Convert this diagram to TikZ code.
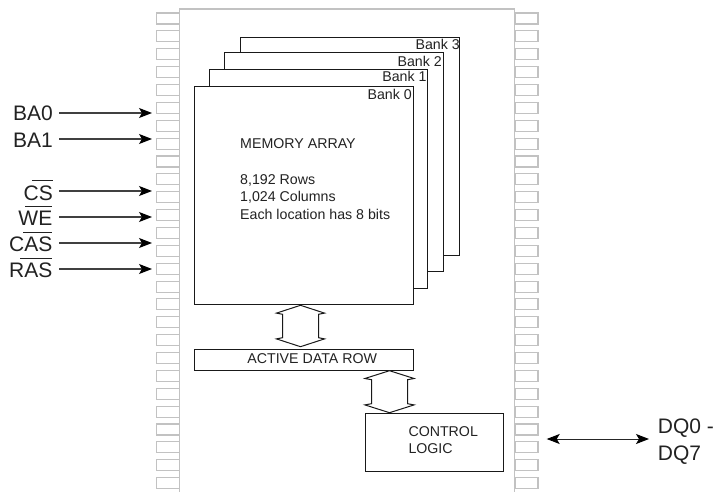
\documentclass[tikz,border=0pt]{standalone}
\usepackage{fontspec}
\setmainfont{Liberation Sans}
\usetikzlibrary{arrows.meta}
\definecolor{pingray}{HTML}{C2C2C2}
\definecolor{ink}{HTML}{222222}
\newcommand{\ovlbar}[2]{\llap{\rule[18.8pt]{#1}{1pt}}\llap{#2}}
\newcommand{\hollowarrow}[5]{% cx, half-wing, half-shaft, top, bottom
  \draw[hollow] (#1,#4) -- (#1-#2,#4+7.8) -- (#1-#3,#4+9) -- (#1-#3,#5-9) -- (#1-#2,#5-7.8)
    -- (#1,#5) -- (#1+#2,#5-7.8) -- (#1+#3,#5-9) -- (#1+#3,#4+9) -- (#1+#2,#4+7.8) -- cycle;}
\tikzset{
  x=1pt,y=-1pt,
  pinbox/.style={draw=pingray,line width=1.1pt,fill=white,rectangle,inner sep=0pt,minimum width=23pt,minimum height=11pt},
  block/.style={draw=black!90,line width=1pt,fill=white,rectangle,inner sep=0pt},
  big/.style={inner sep=0pt,text=ink,font=\fontsize{21}{26.5}\selectfont},
  small/.style={inner sep=0pt,text=ink,font=\fontsize{14.2}{17.7}\selectfont},
  sig/.style={draw=black!75,line width=1.1pt,-{Stealth[length=13pt,width=10pt,inset=3pt,black]}},
  sigboth/.style={draw=black!85,line width=1pt,{Stealth[length=13pt,width=10pt,inset=3pt,black]}-{Stealth[length=13pt,width=10pt,inset=3pt,black]}},
  hollow/.style={draw=black!90,line width=1pt,fill=white,line join=miter},
}
\begin{document}
\begin{tikzpicture}
\useasboundingbox (0,0) rectangle (714,492);
% package
\draw[pingray,line width=1.2pt] (179.5,492) -- (179.5,9) -- (514.5,9) -- (514.5,492);
\foreach \k in {0,...,26}{
  \node[pinbox] (pl\k) at (168,{18.5+17.87*\k}) {};
  \node[pinbox] (pr\k) at (526.5,{18.5+17.87*\k}) {};
}
% banks
\node[block,minimum width=218.5pt,minimum height=218.5pt,anchor=north west] (bank3) at (240.3,36.7) {};
\node[block,minimum width=218.7pt,minimum height=218.5pt,anchor=north west] (bank2) at (224,52.5) {};
\node[block,minimum width=218.7pt,minimum height=218.5pt,anchor=north west] (bank1) at (208.5,69) {};
\node[block,minimum width=218.5pt,minimum height=218pt,anchor=north west] (bank0) at (194.2,86) {};
\node[small,anchor=base east] (lb3) at (460,49.7) {Bank 3};
\node[small,anchor=base east] (lb2) at (442,66.7) {Bank 2};
\node[small,anchor=base east] (lb1) at (426.7,82) {Bank 1};
\node[small,anchor=base east] (lb0) at (412,99.7) {Bank 0};
\node[small,anchor=north west,align=left] (mem) at (240,138.5) {MEMORY ARRAY\\[17.7pt]8,192 Rows\\1,024 Columns\\Each location has 8 bits};
% blocks
\node[block,minimum width=218.5pt,minimum height=21.6pt,anchor=north west] (row) at (194.2,348.7) {};
\node[small,anchor=base] (rowtxt) at (312.2,363.5) {ACTIVE DATA ROW};
\node[block,minimum width=138.3pt,minimum height=58pt,anchor=north west] (ctl) at (365,413) {};
\node[small,anchor=north west,align=left,font=\fontsize{14.2}{16.7}\selectfont] (ctltxt) at (408.3,426.5) {CONTROL\\LOGIC};
% hollow connectors
\hollowarrow{300.5}{24}{18}{305.3}{346.7}
\hollowarrow{389.5}{24.6}{18}{370.7}{412.7}
% signals
\node[big,anchor=base east] (ba0) at (53,121) {BA0};
\node[big,anchor=base east] (ba1) at (53,147.5) {BA1};
\node[big,anchor=base east,minimum width=0pt] (cs) at (53,200) {\ovlbar{21pt}{CS}};
\node[big,anchor=base east] (we) at (53,225.7) {\ovlbar{27pt}{WE}};
\node[big,anchor=base east] (cas) at (53,251.7) {\ovlbar{29pt}{CAS}};
\node[big,anchor=base east] (ras) at (53,277.7) {\ovlbar{32pt}{RAS}};
\foreach \n/\y in {ba0/113,ba1/139,cs/191,we/217,cas/243,ras/269}{
  \coordinate (s\n) at (59,\y);
  \coordinate (e\n) at (152,\y);
  \draw[sig] (s\n) -- (e\n);
}
\node[big,anchor=west,align=left] (dq) at (657.7,441.5) {DQ0 -\\DQ7};
\coordinate (dqa) at (546.7,439);
\coordinate (dqb) at (649,439);
\draw[sigboth] (dqa) -- (dqb);
\end{tikzpicture}
\end{document}
